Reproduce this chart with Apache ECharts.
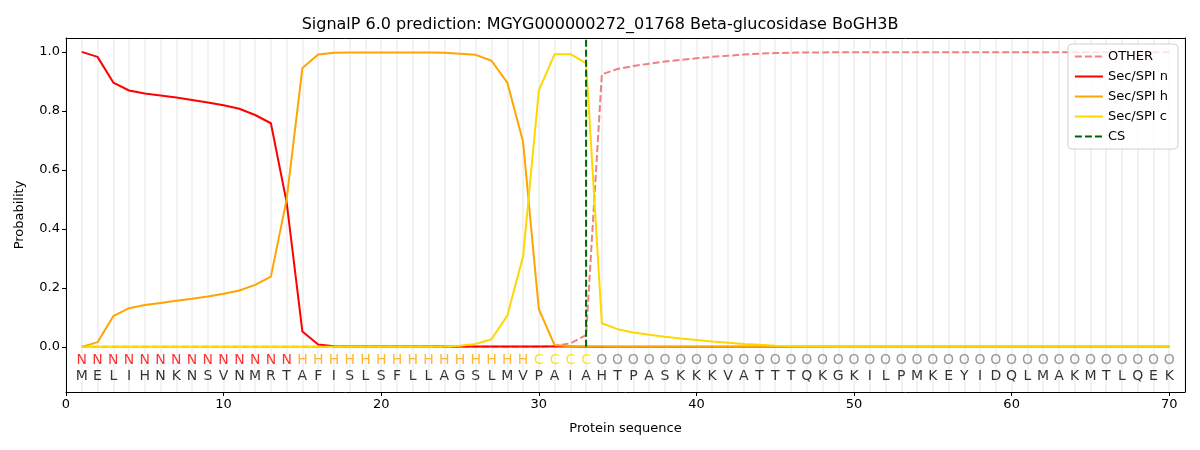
<!DOCTYPE html>
<html lang="en">
<head>
    <meta charset="UTF-8">
    <title>SignalP 6.0 prediction</title>
    <script src="https://cdn.jsdelivr.net/npm/echarts@6/dist/echarts.min.js"></script>
    <style>
        html, body { margin: 0; padding: 0; background: #fff; }
        #chart { width: 1200px; height: 450px; }
    </style>
</head>
<body>
    <div id="chart"></div>
    <script>
        // sequence and per-residue region labels
        var residues = 'MELIHNKNSVNMRTAFISLSFLLAGSLMVPAIAHTPASKKKVATTTQKGKILPMKEYIDQLMAKMTLQEK'.split('');
        var regions = 'NNNNNNNNNNNNNNHHHHHHHHHHHHHHHCCCCOOOOOOOOOOOOOOOOOOOOOOOOOOOOOOOOOOOOO'.split('');

        // probabilities, residue 1..70
        var probOther = [0, 0, 0, 0, 0, 0, 0, 0, 0, 0,
            0, 0, 0, 0, 0, 0, 0, 0, 0, 0,
            0, 0, 0, 0, 0, 0, 0, 0, 0, 0,
            0.003, 0.012, 0.04, 0.924, 0.942, 0.952, 0.96, 0.967, 0.973, 0.978,
            0.983, 0.987, 0.991, 0.994, 0.996, 0.997, 0.998, 0.998, 0.999, 0.999,
            0.999, 0.999, 0.999, 0.999, 0.999, 0.999, 0.999, 0.999, 0.999, 0.999,
            0.999, 0.999, 0.999, 0.999, 0.999, 0.999, 0.999, 0.999, 0.999, 0.999];
        var probN = [1.0, 0.983, 0.896, 0.869, 0.859, 0.852, 0.845, 0.837, 0.828, 0.819,
            0.807, 0.786, 0.758, 0.49, 0.052, 0.008, 0.002, 0.001, 0.001, 0.001,
            0.001, 0.001, 0.001, 0.001, 0.001, 0.001, 0.001, 0.001, 0.001, 0.001,
            0.001, 0.001, 0, 0, 0, 0, 0, 0, 0, 0,
            0, 0, 0, 0, 0, 0, 0, 0, 0, 0,
            0, 0, 0, 0, 0, 0, 0, 0, 0, 0,
            0, 0, 0, 0, 0, 0, 0, 0, 0, 0];
        var probH = [0, 0.016, 0.104, 0.131, 0.142, 0.149, 0.156, 0.163, 0.171, 0.18,
            0.191, 0.21, 0.238, 0.5, 0.945, 0.991, 0.997, 0.998, 0.998, 0.998,
            0.998, 0.998, 0.998, 0.997, 0.994, 0.99, 0.97, 0.896, 0.695, 0.128,
            0.006, 0.002, 0.001, 0.001, 0, 0, 0, 0, 0, 0,
            0, 0, 0, 0, 0, 0, 0, 0, 0, 0,
            0, 0, 0, 0, 0, 0, 0, 0, 0, 0,
            0, 0, 0, 0, 0, 0, 0, 0, 0, 0];
        var probC = [0, 0, 0, 0, 0, 0, 0, 0, 0, 0,
            0, 0, 0, 0, 0, 0, 0, 0, 0, 0,
            0, 0, 0, 0.001, 0.004, 0.01, 0.026, 0.106, 0.306, 0.869,
            0.992, 0.992, 0.962, 0.08, 0.06, 0.049, 0.041, 0.034, 0.028, 0.023,
            0.018, 0.014, 0.01, 0.007, 0.004, 0.002, 0.001, 0.001, 0, 0,
            0, 0, 0, 0, 0, 0, 0, 0, 0, 0,
            0, 0, 0, 0, 0, 0, 0, 0, 0, 0];
        var csPos = 33;

        var xTicks = [0, 10, 20, 30, 40, 50, 60, 70];
        var yTicks = [0, 0.2, 0.4, 0.6, 0.8, 1.0];

        var regionColor = { N: '#ff0000', H: '#ffa500', C: '#ffd700', O: '#808080' };
        var font = 'DejaVu Sans';

        function pairs(arr) {
            return arr.map(function (v, i) { return [i + 1, v]; });
        }

        var regionLabels = regions.map(function (r, i) {
            return { value: [i + 1, -0.045, r], label: { color: regionColor[r] } };
        });
        var residueLabels = residues.map(function (r, i) {
            return { value: [i + 1, -0.1, r] };
        });

        var textSeries = function (data) {
            return {
                type: 'scatter', data: data, symbolSize: 0, silent: true,
                label: {
                    show: true, position: 'inside', fontFamily: font, fontSize: 14, color: '#000',
                    formatter: function (p) { return p.value[2]; }
                }
            };
        };

        var line = function (name, data, color, dashed) {
            return {
                name: name, type: 'line', data: data, symbol: 'none', silent: true,
                lineStyle: { color: color, width: 2, type: dashed ? [7, 3] : 'solid' },
                itemStyle: { color: color }
            };
        };

        var myChart = echarts.init(document.getElementById('chart'));
        var option = {
            animation: false,
            title: {
                text: 'SignalP 6.0 prediction: MGYG000000272_01768 Beta-glucosidase BoGH3B',
                left: 'center', top: 12,
                textStyle: { fontFamily: font, fontSize: 16, fontWeight: 'normal', color: '#000' }
            },
            legend: {
                data: ['OTHER', 'Sec/SPI n', 'Sec/SPI h', 'Sec/SPI c', 'CS'],
                orient: 'vertical', right: 22, top: 44,
                padding: [6, 10, 6, 6], itemGap: 7, itemWidth: 28, itemHeight: 14,
                itemStyle: { opacity: 0 },
                backgroundColor: 'rgba(255,255,255,0.8)', borderColor: '#d0d0d0', borderWidth: 1, borderRadius: 4,
                textStyle: { fontFamily: font, fontSize: 13, color: '#000' }
            },
            grid: { left: 66, right: 15, top: 38, bottom: 58 },
            xAxis: [{
                type: 'value', min: 0, max: 71,
                name: 'Protein sequence', nameLocation: 'middle', nameGap: 30,
                nameTextStyle: { fontFamily: font, fontSize: 13, color: '#000' },
                axisLine: { onZero: false, lineStyle: { color: '#000' } },
                axisTick: { customValues: xTicks, length: 4, lineStyle: { color: '#000' } },
                axisLabel: { customValues: xTicks, fontFamily: font, fontSize: 13, color: '#000', margin: 6 },
                splitLine: { show: false }
            }, {
                type: 'value', min: 0, max: 71, interval: 1, position: 'top',
                axisLine: { show: true, onZero: false, lineStyle: { color: '#000' } },
                axisTick: { show: false }, axisLabel: { show: false },
                splitLine: { show: true, lineStyle: { color: '#f2f2f2', width: 2 } }
            }],
            yAxis: [{
                type: 'value', min: -0.153, max: 1.047,
                name: 'Probability', nameLocation: 'middle', nameGap: 40,
                nameTextStyle: { fontFamily: font, fontSize: 13, color: '#000' },
                axisLine: { show: true, onZero: false, lineStyle: { color: '#000' } },
                axisTick: { show: true, customValues: yTicks, length: 4, lineStyle: { color: '#000' } },
                axisLabel: {
                    customValues: yTicks, fontFamily: font, fontSize: 13, color: '#000', margin: 6,
                    formatter: function (v) { return v.toFixed(1); }
                },
                splitLine: { show: false }
            }, {
                type: 'value', min: -0.153, max: 1.047, position: 'right',
                axisLine: { show: true, onZero: false, lineStyle: { color: '#000' } },
                axisTick: { show: false }, axisLabel: { show: false }, splitLine: { show: false }
            }],
            series: [
                line('OTHER', pairs(probOther), '#f08080', true),
                line('Sec/SPI n', pairs(probN), '#ff0000'),
                line('Sec/SPI h', pairs(probH), '#ffa500'),
                line('Sec/SPI c', pairs(probC), '#ffd700'),
                line('CS', [[csPos, 0], [csPos, 1.047]], '#006400', true),
                textSeries(regionLabels),
                textSeries(residueLabels)
            ]
        };
        myChart.setOption(option);
    </script>
</body>
</html>
